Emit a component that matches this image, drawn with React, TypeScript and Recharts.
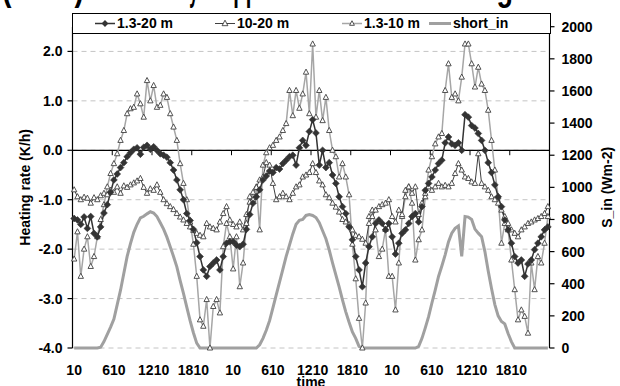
import React from "react";
import { ComposedChart, Line, XAxis, YAxis, CartesianGrid, ReferenceLine } from "recharts";

// half-hourly times of one day, repeated for the three days
const DAY_TIMES = [
  "10", "40", "110", "140", "210", "240", "310", "340", "410", "440", "510", "540",
  "610", "640", "710", "740", "810", "840", "910", "940", "1010", "1040", "1110", "1140",
  "1210", "1240", "1310", "1340", "1410", "1440", "1510", "1540", "1610", "1640", "1710", "1740",
  "1810", "1840", "1910", "1940", "2010", "2040", "2110", "2140", "2210", "2240", "2310", "2340",
];
const TIMES = [...DAY_TIMES, ...DAY_TIMES, ...DAY_TIMES];
const X_TICKS = [0, 12, 24, 36, 48, 60, 72, 84, 96, 108, 120, 132];
const X_MINOR = [11.5, 23.5, 35.5, 47.5, 59.5, 71.5, 83.5, 95.5, 107.5, 119.5, 131.5];
const LEFT_TICKS = [-4, -3, -2, -1, 0, 1, 2];
const RIGHT_TICKS = [0, 200, 400, 600, 800, 1000, 1200, 1400, 1600, 1800, 2000];

// 1.3-20 m heating rate (K/h)
const HR_13_20 = [
  -1.38, -1.41, -1.5, -1.35, -1.58, -1.34, -1.68, -1.75, -1.55, -1.27, -1.1, -0.85,
  -0.6, -0.48, -0.35, -0.25, -0.13, -0.05, 0.02, 0.05, -0.08, 0.06, 0.1, 0.02,
  0.07, 0.0, -0.07, -0.1, -0.14, -0.25, -0.4, -0.6, -0.8, -1.0, -1.28, -1.42,
  -1.6, -1.87, -2.15, -2.42, -2.55, -2.35, -2.28, -2.22, -2.42, -2.15, -1.88, -1.85,
  -1.85, -1.92, -1.95, -1.9, -1.6, -1.3, -1.07, -0.94, -0.8, -0.6, -0.52, -0.42,
  -0.45, -0.35, -0.38, -0.27, -0.2, -0.13, -0.1, -0.3, 0.05, 0.2, 0.1, 0.38,
  0.62, 0.35, -0.3, 0.0, -0.35, -0.25, -0.5, -0.67, -0.94, -1.14, -1.28, -1.55,
  -1.81, -2.15, -2.42, -2.76, -2.28, -1.95, -1.75, -1.48, -1.41, -1.48, -1.61, -1.48,
  -1.75, -2.1, -1.88, -1.68, -1.61, -1.48, -1.34, -1.28, -1.45, -1.14, -0.81, -0.67,
  -0.54, -0.4, -0.27, -0.2, 0.15, 0.27, 0.13, 0.1, 0.15, 0.0, 0.72, 0.67,
  0.5, 0.45, 0.34, 0.2, 0.0, -0.25, -0.45, -0.7, -0.94, -1.14, -1.41, -1.61,
  -1.88, -2.15, -2.28, -2.22, -2.55, -2.3, -2.22, -2.01, -1.88, -1.75, -1.61, -1.55,
];

// 10-20 m heating rate (K/h)
const HR_10_20 = [
  -0.8, -0.94, -1.0, -0.95, -0.97, -1.07, -0.96, -1.0, -0.92, -0.87, -0.9, -0.81,
  -0.85, -0.74, -0.87, -0.72, -0.75, -0.7, -0.66, -0.62, -0.57, -0.75, -0.87, -0.78,
  -0.81, -0.7, -0.85, -1.0, -1.08, -1.14, -1.2, -1.28, -1.35, -1.41, -1.48, -1.55,
  -1.62, -1.68, -1.72, -1.75, -1.48, -1.55, -1.58, -1.61, -1.45, -1.28, -1.14, -1.41,
  -1.5, -1.55, -1.45, -1.61, -1.3, -1.05, -0.85, -0.75, -0.6, -0.54, -0.25, -0.3,
  -0.67, -1.0, -0.94, -0.87, -0.94, -1.0, -0.87, -0.74, -0.7, -0.54, -0.5, -0.45,
  -0.27, -0.45, -0.62, -0.7, -0.9, -0.96, -1.07, -1.15, -1.25, -1.4, -1.45, -1.5,
  -1.61, -1.72, -1.75, -1.8, -1.88, -1.48, -1.34, -1.21, -1.14, -1.1, -1.07, -1.0,
  -1.34, -1.45, -1.21, -1.3, -0.81, -0.74, -0.87, -0.74, -1.3, -1.07, -0.87, -0.74,
  -0.81, -0.74, -0.67, -0.74, -0.71, -0.74, -0.67, -0.47, -0.27, -0.4, -0.54, -0.57,
  -0.64, -0.67, -0.07, -0.67, -0.74, -0.81, -0.94, -1.0, -1.07, -1.21, -1.34, -1.48,
  -1.61, -1.68, -1.75, -1.61, -1.55, -1.48, -1.45, -1.41, -1.38, -1.34, -1.28, -1.14,
];

// 1.3-10 m heating rate (K/h)
const HR_13_10 = [
  -2.2, -1.65, -2.55, -2.0, -1.75, -2.35, -2.15, -1.75, -1.4, -1.1, -0.74, -0.47,
  -0.27, -0.07, 0.2, 0.4, 0.74, 0.84, 0.87, 1.14, 0.94, 0.67, 1.41, 1.0,
  1.31, 0.87, 0.91, 1.14, 1.07, 0.74, 0.47, 0.2, -0.27, -0.67, -1.0, -1.45,
  -1.9, -2.55, -3.43, -3.56, -3.02, -4.0, -3.16, -3.02, -3.29, -1.95, -1.48, -1.75,
  -2.4, -1.75, -2.76, -2.28, -1.48, -0.94, -1.0, -0.74, -1.61, -0.3, -0.05, 0.05,
  0.1, 0.2, 0.27, 0.4, 0.54, 1.21, 0.7, 1.21, 0.85, 1.14, 1.58, 0.74,
  2.15, 0.67, 1.21, 0.6, 1.07, 0.4, 0.0, -0.13, -0.54, -0.27, -0.54, -0.9,
  -1.9, -2.6, -3.4, -4.0, -3.09, -1.34, -1.21, -1.61, -2.15, -2.0, -1.6, -2.55,
  -2.55, -3.23, -2.28, -1.34, -0.94, -0.74, -1.07, -2.22, -1.81, -1.61, -0.94, -0.4,
  -0.13, 0.13, 0.27, 0.34, 1.21, 1.75, 1.07, 1.14, 1.0, 1.48, 2.15, 2.15,
  1.75, 1.28, 1.68, 1.34, 1.21, 0.81, 0.2, -0.4, -0.94, -1.88, -1.48, -1.61,
  -2.22, -2.82, -3.43, -3.23, -3.36, -3.7, -2.28, -2.82, -2.15, -2.28, -1.88, -1.34,
];

// incoming shortwave (W m-2)
const SHORT_IN = [
  0, 0, 0, 0, 0, 0, 0, 0, 5, 40, 85, 130,
  180, 270, 360, 465, 570, 650, 720, 770, 810, 820, 835, 848,
  840, 818, 780, 740, 690, 630, 570, 505, 420, 340, 255, 170,
  95, 30, 0, 0, 0, 0, 0, 0, 0, 0, 0, 0,
  0, 0, 0, 0, 0, 0, 0, 0, 20, 60, 110, 170,
  250, 330, 410, 490, 570, 640, 710, 770, 795, 800, 825, 830,
  825, 812, 780, 730, 680, 610, 530, 455, 380, 300, 225, 160,
  100, 60, 10, 0, 0, 0, 0, 0, 0, 0, 0, 0,
  0, 0, 0, 0, 0, 0, 0, 0, 10, 60, 125, 195,
  280, 360, 445, 510, 580, 660, 715, 745, 760, 570, 818, 815,
  800, 740, 715, 693, 600, 480, 370, 270, 200, 165, 150, 90,
  40, 0, 0, 0, 0, 0, 0, 0, 0, 0, 0, 0,
];

const rows = TIMES.map((t, i) => ({
  idx: i,
  time: t,
  a: HR_13_20[i],
  b: HR_10_20[i],
  c: HR_13_10[i],
  s: SHORT_IN[i],
}));

const FONT = "Arial, 'Liberation Sans', sans-serif";
const tickStyle = { fill: "#000", fontSize: 14, fontWeight: 700, fontFamily: FONT };

const triPath = (x: number, y: number, r: number) =>
  `M${x},${y - r * 1.15} L${x + r},${y + r * 0.75} L${x - r},${y + r * 0.75} Z`;
const diaPath = (x: number, y: number, r: number) =>
  `M${x},${y - r} L${x + r},${y} L${x},${y + r} L${x - r},${y} Z`;

const triDot = (p: any) => {
  const { cx, cy, index } = p;
  if (cx == null || cy == null) return <g key={index} />;
  return <path key={index} d={triPath(cx, cy, 2.7)} fill="#fff" stroke="#404040" strokeWidth={0.9} />;
};
const diaDot = (p: any) => {
  const { cx, cy, index } = p;
  if (cx == null || cy == null) return <g key={index} />;
  return <path key={index} d={diaPath(cx, cy, 3.4)} fill="#333" stroke="#333" strokeWidth={0.6} />;
};

function AxisTitle(props: any) {
  const { viewBox, value, dx = 0, mode } = props;
  if (!viewBox) return null;
  const { x, y, width, height } = viewBox;
  if (mode === "x") {
    return (
      <text x={x + width / 2} y={y + height + 1} textAnchor="middle" style={tickStyle}>
        {value}
      </text>
    );
  }
  const cx = x + width / 2 + dx;
  const cy = y + height / 2;
  return (
    <text
      x={cx}
      y={cy}
      textAnchor="middle"
      dominantBaseline="central"
      transform={`rotate(-90, ${cx}, ${cy})`}
      style={tickStyle}
    >
      {value}
    </text>
  );
}

function Overlay() {
  const txt = { fontFamily: FONT, fontWeight: 700, fontSize: 14, fill: "#000" };
  const ty = 28;
  return (
    <svg width={620} height={40} style={{ position: "absolute", left: 0, top: 0, pointerEvents: "none" }}>
      {/* chart title, cut off at the top edge: only descenders show */}
      <g style={{ fontFamily: FONT, fontWeight: 700, fontSize: 36 }} fill="#000">
        <text x={2} y={0} textLength={82} lengthAdjust="spacingAndGlyphs">(2004)</text>
        <text x={92} y={0} textLength={106} lengthAdjust="spacingAndGlyphs">Mean rates by</text>
        <text x={221} y={0} textLength={56} lengthAdjust="spacingAndGlyphs">upper</text>
        <text x={283} y={0} textLength={230} lengthAdjust="spacingAndGlyphs">and lower heating</text>
      </g>
      <rect x={72.5} y={13.5} width={478} height={20} fill="#fff" stroke="#000" strokeWidth={1} />
      <line x1={95} x2={115} y1={23.5} y2={23.5} stroke="#333" strokeWidth={1.5} />
      <path d={diaPath(105, 23.5, 3.4)} fill="#333" />
      <text x={117} y={ty} style={txt}>1.3-20 m</text>
      <line x1={215} x2={235} y1={23.5} y2={23.5} stroke="#404040" strokeWidth={1} />
      <path d={triPath(225, 23.5, 2.9)} fill="#fff" stroke="#404040" strokeWidth={0.9} />
      <text x={237} y={ty} style={txt}>10-20 m</text>
      <line x1={342} x2={362} y1={23.5} y2={23.5} stroke="#a6a6a6" strokeWidth={1.5} />
      <path d={triPath(352, 23.5, 2.4)} fill="#fff" stroke="#404040" strokeWidth={0.9} />
      <text x={364} y={ty} style={txt}>1.3-10 m</text>
      <line x1={429} x2={451} y1={23.5} y2={23.5} stroke="#a0a0a0" strokeWidth={3} />
      <text x={453} y={ty} style={txt}>short_in</text>
    </svg>
  );
}

export default function App() {
  return (
    <div style={{ position: "absolute", left: 0, top: 0, width: 620, height: 386, background: "#fff" }}>
      <ComposedChart width={620} height={386} data={rows} margin={{ top: 26.7, right: 0, bottom: 0, left: 0 }}>
        <CartesianGrid yAxisId="left" vertical={false} strokeDasharray="5 4" stroke="#c4c4c4" />
        <XAxis
          dataKey="idx"
          type="number"
          domain={[-0.5, 143.5]}
          ticks={X_TICKS}
          tickFormatter={(v: number) => TIMES[v]}
          axisLine={false}
          tickLine={false}
          tickSize={6}
          tickMargin={11}
          height={38}
          tick={tickStyle}
          interval={0}
          label={<AxisTitle mode="x" value="time" />}
        />
        <YAxis
          yAxisId="left"
          domain={[-4, 2.5]}
          ticks={LEFT_TICKS}
          width={72.5}
          tickFormatter={(v: number) => v.toFixed(1)}
          axisLine={{ stroke: "#000", strokeWidth: 1.2 }}
          tickLine={{ stroke: "#000", strokeWidth: 1.2 }}
          tickSize={5}
          tickMargin={5}
          tick={tickStyle}
          interval={0}
          label={<AxisTitle value="Heating rate (K/h)" dx={-11} />}
        />
        <YAxis
          yAxisId="right"
          orientation="right"
          domain={[0, 2000]}
          ticks={RIGHT_TICKS}
          width={70.5}
          axisLine={{ stroke: "#000", strokeWidth: 1.2 }}
          tickLine={{ stroke: "#000", strokeWidth: 1.2 }}
          tickSize={5}
          tickMargin={7}
          tick={tickStyle}
          interval={0}
          label={<AxisTitle value="S_in (Wm-2)" dx={22} />}
        />
        <ReferenceLine yAxisId="left" y={0} stroke="#000" strokeWidth={1.3} />
        {X_MINOR.map((m) => (
          <ReferenceLine
            key={m}
            yAxisId="left"
            segment={[{ x: m, y: 0 }, { x: m, y: -0.1 }]}
            stroke="#000"
            strokeWidth={1}
          />
        ))}
        <Line yAxisId="right" dataKey="s" stroke="#a0a0a0" strokeWidth={3} dot={false} isAnimationActive={false} />
        <Line yAxisId="left" dataKey="c" stroke="#a6a6a6" strokeWidth={1.5} dot={triDot} isAnimationActive={false} />
        <Line yAxisId="left" dataKey="b" stroke="#404040" strokeWidth={1} dot={triDot} isAnimationActive={false} />
        <Line yAxisId="left" dataKey="a" stroke="#333" strokeWidth={1.5} dot={diaDot} isAnimationActive={false} />
      </ComposedChart>
      <Overlay />
    </div>
  );
}
